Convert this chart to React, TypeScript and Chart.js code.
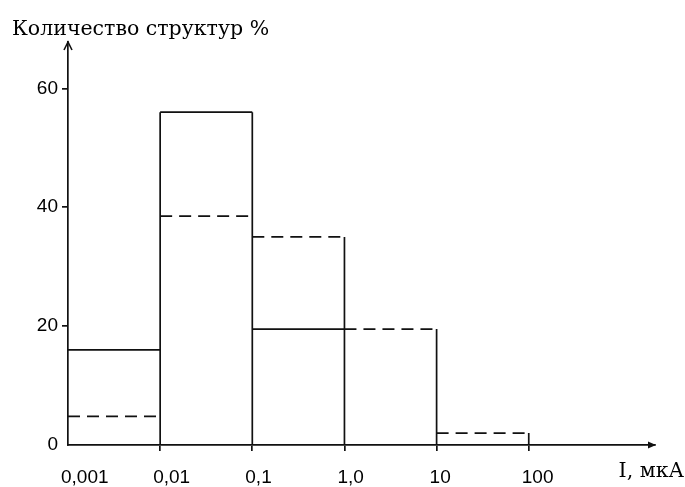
import React, { useEffect, useRef } from 'react';
import { Chart, registerables } from 'chart.js';

Chart.register(...registerables);

// Bin edges (x axis tick labels)
const xEdgeLabels = ['0,001', '0,01', '0,1', '1,0', '10', '100'];
// Solid histogram (%)
const solidSeries = [16, 56, 19.5, 0, 0];
// Dashed histogram (%)
const dashedSeries = [4.8, 38.5, 35, 19.5, 2];
const yTickStep = 20;
const yAxisMax = 67.8;
const xAxisMax = 6.37;
const yAxisTitle = 'Количество структур %';
const xAxisTitle = 'I, мкА';

type Pt = { x: number; y: number | null };

function tops(series: number[]): Pt[] {
  const pts: Pt[] = [];
  series.forEach((v, i) => {
    if (v > 0) {
      pts.push({ x: i, y: v }, { x: i + 1, y: v }, { x: i + 1, y: null });
    }
  });
  return pts;
}

function verticals(a: number[], b: number[]): Pt[] {
  const pts: Pt[] = [];
  for (let k = 1; k <= a.length; k++) {
    const h = Math.max(a[k - 1] ?? 0, a[k] ?? 0, b[k - 1] ?? 0, b[k] ?? 0);
    if (h > 0) pts.push({ x: k, y: 0 }, { x: k, y: h }, { x: k, y: null });
  }
  return pts;
}

const decorPlugin = {
  id: 'decor',
  afterDraw(chart: any) {
    const { ctx, chartArea } = chart;
    const { left, right, top, bottom } = chartArea;
    ctx.save();
    ctx.strokeStyle = '#111';
    ctx.fillStyle = '#111';
    ctx.lineWidth = 1.6;
    // y arrow
    ctx.beginPath();
    ctx.moveTo(left - 4, top + 8);
    ctx.lineTo(left, top);
    ctx.lineTo(left + 4, top + 8);
    ctx.stroke();
    // x arrow
    ctx.beginPath();
    ctx.moveTo(right + 1, bottom);
    ctx.lineTo(right - 7, bottom - 3.5);
    ctx.lineTo(right - 7, bottom + 3.5);
    ctx.closePath();
    ctx.fill();
    // titles
    ctx.fillStyle = '#000';
    ctx.font = '20.5px "DejaVu Serif"';
    ctx.textBaseline = 'alphabetic';
    ctx.textAlign = 'left';
    ctx.fillText(yAxisTitle, 12, 35);
    ctx.font = '20.5px "DejaVu Serif"';
    ctx.textAlign = 'right';
    ctx.fillText(xAxisTitle, 684, 477);
    ctx.restore();
  },
};

export default function App() {
  const ref = useRef<HTMLCanvasElement>(null);
  useEffect(() => {
    document.body.style.margin = '0';
    const canvas = ref.current!;
    const tickFont = { family: '"Liberation Sans", sans-serif', size: 19 };
    const lineColor = '#111';
    const chart = new Chart(canvas, {
      type: 'line',
      data: {
        datasets: [
          {
            data: verticals(solidSeries, dashedSeries) as any,
            borderColor: lineColor,
            borderWidth: 1.7,
            pointRadius: 0,
            spanGaps: false,
          },
          {
            data: tops(solidSeries) as any,
            borderColor: lineColor,
            borderWidth: 1.7,
            pointRadius: 0,
            spanGaps: false,
          },
          {
            data: tops(dashedSeries) as any,
            borderColor: lineColor,
            borderWidth: 1.7,
            borderDash: [12, 7],
            pointRadius: 0,
            spanGaps: false,
          },
        ],
      },
      options: {
        animation: false,
        responsive: false,
        devicePixelRatio: 1,
        layout: { padding: { left: 8, top: 42, right: 30, bottom: 0 } },
        plugins: { legend: { display: false }, tooltip: { enabled: false }, title: { display: false } },
        scales: {
          x: {
            type: 'linear',
            min: 0,
            max: xAxisMax,
            afterFit: (s: any) => { s.height = 42; },
            afterBuildTicks: (s: any) => { s.ticks = xEdgeLabels.map((_, i) => ({ value: i })); },
            border: { display: true, color: lineColor, width: 1.7 },
            grid: {
              drawOnChartArea: false,
              drawTicks: true,
              tickLength: 6,
              color: (c: any) => (c.tick && c.tick.value === 0 ? 'rgba(0,0,0,0)' : lineColor),
              lineWidth: 1.7,
            },
            ticks: {
              autoSkip: false,
              maxRotation: 0,
              align: 'start',
              labelOffset: -7,
              padding: 15,
              color: '#000',
              font: tickFont,
              callback: (_v: any, i: number) => xEdgeLabels[i],
            },
          },
          y: {
            type: 'linear',
            min: 0,
            max: yAxisMax,
            afterFit: (s: any) => { s.width = 60; },
            border: { display: true, color: lineColor, width: 1.7 },
            grid: {
              drawOnChartArea: false,
              drawTicks: true,
              tickLength: 6,
              color: (c: any) => (c.tick && c.tick.value === 0 ? 'rgba(0,0,0,0)' : lineColor),
              lineWidth: 1.7,
            },
            ticks: {
              stepSize: yTickStep,
              includeBounds: false,
              padding: 4,
              color: '#000',
              font: tickFont,
            },
          },
        },
      } as any,
      plugins: [decorPlugin],
    });
    return () => chart.destroy();
  }, []);
  return (
    <div style={{ position: 'fixed', left: 0, top: 0, width: 685, height: 487, background: '#fff' }}>
      <canvas ref={ref} width={685} height={487} />
    </div>
  );
}
